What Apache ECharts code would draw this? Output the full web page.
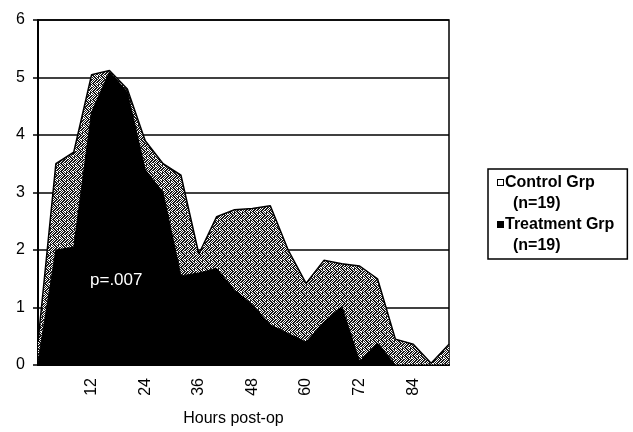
<!DOCTYPE html>
<html>
<head>
<meta charset="utf-8">
<script src="https://cdn.jsdelivr.net/npm/echarts@6/dist/echarts.min.js"></script>
<style>
html,body{margin:0;padding:0;background:#fff;}
#chart{width:633px;height:432px;}
</style>
</head>
<body>
<div id="chart"></div>
<script>
// Hours post-op (every 4 hours)
var hours = ['0','4','8','12','16','20','24','28','32','36','40','44','48','52','56','60','64','68','72','76','80','84','88','92'];
var controlGrp = [0.4,3.5,3.7,5.05,5.12,4.8,3.9,3.5,3.3,1.93,2.58,2.7,2.72,2.77,2.0,1.42,1.82,1.76,1.72,1.5,0.45,0.36,0.03,0.36];
var treatmentGrp = [0.05,2.0,2.05,4.4,5.1,4.75,3.4,3.0,1.55,1.6,1.68,1.3,1.05,0.7,0.55,0.4,0.75,1.02,0.06,0.38,0,0,0,0];
var yTicks = [0,1,2,3,4,5,6];
var legendNames = ['Control Grp (n=19)', 'Treatment Grp (n=19)'];
var annotation = 'p=.007';

function makePattern(){
  var bits = [
    "10110101",
    "01101011",
    "11010110",
    "00101101",
    "10110110",
    "01101011",
    "10100101",
    "11011010"
  ];
  var c = document.createElement('canvas');
  c.width = 8; c.height = 8;
  var ctx = c.getContext('2d');
  ctx.fillStyle = '#ffffff';
  ctx.fillRect(0,0,8,8);
  ctx.fillStyle = '#1a1a1a';
  for (var y=0;y<8;y++) for (var x=0;x<8;x++) if (bits[y][x]==='1') ctx.fillRect(x,y,1,1);
  return c;
}

var chart = echarts.init(document.getElementById('chart'));
var font = 'Liberation Sans, Arial, sans-serif';
chart.setOption({
  animation: false,
  backgroundColor: '#fff',
  grid: {left: 38, right: 184, top: 20, bottom: 66, show: true, borderColor: '#000', borderWidth: 1.5, backgroundColor: 'transparent'},
  legend: {
    orient: 'vertical',
    left: 488, top: 169,
    padding: [3, 13, 3, 4],
    itemGap: 0,
    itemWidth: 0, itemHeight: 0,
    selectedMode: false,
    borderColor: '#000', borderWidth: 1.5,
    formatter: function(name){
      var i = name.indexOf(' (');
      var first = name.slice(0, i), second = name.slice(i + 1);
      var box = name === legendNames[0] ? 'o' : 'f';
      return '{' + box + '| }{g| }{t|' + first + '}\n{s| }{t|' + second + '}';
    },
    textStyle: {
      fontFamily: font, fontSize: 16, fontWeight: 'bold', color: '#000', lineHeight: 21,
      rich: {
        o: {width: 5, height: 5, backgroundColor: '#fff', borderColor: '#000', borderWidth: 1},
        f: {width: 5, height: 5, backgroundColor: '#000', borderColor: '#000', borderWidth: 1},
        g: {width: 2},
        s: {width: 15},
        t: {fontFamily: font, fontSize: 16, fontWeight: 'bold', color: '#000', lineHeight: 21}
      }
    },
    data: [
      {name: legendNames[0], itemStyle: {color: 'transparent', borderWidth: 0}},
      {name: legendNames[1], itemStyle: {color: 'transparent', borderWidth: 0}}
    ]
  },
  xAxis: {
    type: 'category',
    data: hours,
    boundaryGap: false,
    axisLine: {lineStyle: {color: '#000', width: 2}},
    axisTick: {show: false},
    axisLabel: {
      rotate: 90, margin: 13, fontFamily: font, fontSize: 16, color: '#000',
      interval: function(i, v){ var n = +v; return n > 0 && n % 12 === 0; }
    },
    name: 'Hours post-op',
    nameLocation: 'middle',
    nameGap: 46,
    nameTextStyle: {fontFamily: font, fontSize: 16, color: '#000', padding: [0, 20, 0, 0]}
  },
  yAxis: {
    type: 'value',
    min: yTicks[0], max: yTicks[yTicks.length-1], interval: 1,
    axisLine: {show: true, lineStyle: {color: '#000', width: 2}},
    axisTick: {show: true, inside: false, length: 5, lineStyle: {color: '#000', width: 1.5}},
    axisLabel: {fontFamily: font, fontSize: 16, color: '#000', margin: 13},
    splitLine: {show: true, lineStyle: {color: '#000', width: 1.5}}
  },
  graphic: [{
    type: 'text', left: 90, top: 272, z: 100,
    style: {text: annotation, fill: '#fff', font: '17px Liberation Sans, Arial, sans-serif'}
  }],
  series: [
    {
      name: legendNames[0], type: 'line', data: controlGrp, symbol: 'none', z: 2,
      lineStyle: {color: '#000', width: 1.5},
      itemStyle: {color: '#fff'},
      areaStyle: {color: {image: makePattern(), repeat: 'repeat'}, opacity: 1}
    },
    {
      name: legendNames[1], type: 'line', data: treatmentGrp, symbol: 'none', z: 3,
      lineStyle: {color: '#000', width: 1},
      itemStyle: {color: '#000'},
      areaStyle: {color: '#000', opacity: 1}
    }
  ]
});
</script>
</body>
</html>
